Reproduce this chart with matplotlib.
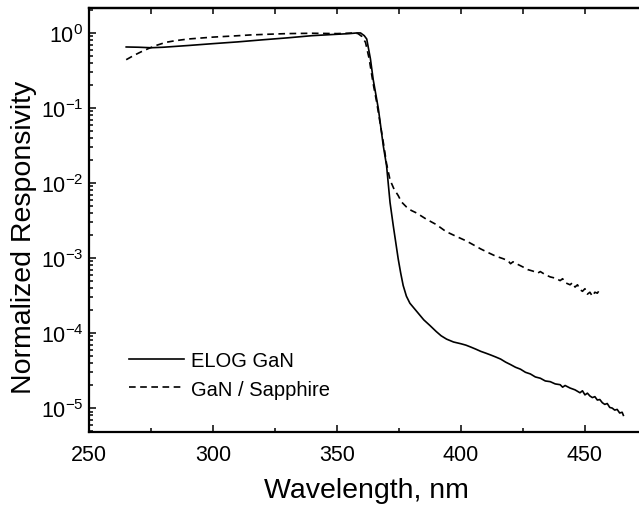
import numpy as np
import matplotlib
matplotlib.use('Agg')
import matplotlib.pyplot as plt
from matplotlib.ticker import LogLocator, NullFormatter, MultipleLocator

plt.rcParams['font.family'] = ['Liberation Sans', 'DejaVu Sans']
plt.rcParams['mathtext.fontset'] = 'custom'
plt.rcParams['mathtext.rm'] = 'Liberation Sans'
plt.rcParams['mathtext.it'] = 'Liberation Sans:italic'
plt.rcParams['axes.unicode_minus'] = False

# ELOG GaN (solid)
elog_wl = [265, 270, 275, 280, 290, 300, 310, 320, 330, 340, 350, 355, 358, 359.5,
           361, 362, 363.5, 364.6, 365.7, 366.7, 367.7, 368.7, 370, 371.4, 372.7,
           374.7, 375.7, 376.7, 378, 379.4, 380.8, 383, 385, 387.5, 390, 392, 394.2,
           397, 400, 402, 404, 406, 408, 410, 412, 414, 416, 418, 420, 422, 424, 426,
           428, 430, 432, 434, 436, 438, 440, 441, 442, 444, 446, 448, 449, 450, 451,
           452, 453, 454, 455, 456, 457, 458, 459, 460, 461, 462, 463, 464, 465, 465.5]
elog_resp = [0.65, 0.645, 0.635, 0.645, 0.68, 0.72, 0.76, 0.81, 0.86, 0.92, 0.96, 0.98, 1.0, 1.0,
             0.92, 0.83, 0.45, 0.24, 0.15, 0.097, 0.055, 0.031, 0.017, 5.5e-3, 2.7e-3,
             9.7e-4, 6.3e-4, 4.3e-4, 3.1e-4, 2.5e-4, 2.2e-4, 1.8e-4, 1.5e-4, 1.26e-4, 1.05e-4, 9.2e-5, 8.3e-5,
             7.6e-5, 7.2e-5, 6.9e-5, 6.5e-5, 6.1e-5, 5.7e-5, 5.4e-5, 5.1e-5, 4.8e-5, 4.5e-5, 4.1e-5, 3.8e-5, 3.5e-5, 3.3e-5, 3.0e-5,
             2.85e-5, 2.6e-5, 2.5e-5, 2.3e-5, 2.25e-5, 2.1e-5, 2.05e-5, 1.9e-5, 2.0e-5, 1.85e-5, 1.75e-5, 1.6e-5, 1.7e-5, 1.5e-5, 1.58e-5,
             1.45e-5, 1.38e-5, 1.42e-5, 1.28e-5, 1.3e-5, 1.18e-5, 1.12e-5, 1.15e-5, 1.02e-5, 1.0e-5, 9.4e-6, 9.6e-6, 8.6e-6, 8.8e-6, 8.0e-6]

# GaN / Sapphire (dashed)
sapph_wl = [265, 268, 271, 274, 277, 281, 285, 290, 300, 308, 315, 322, 330, 340, 350, 354, 357,
            358.5, 360, 361.5, 363, 364.5, 366, 367.5, 369, 370, 371.4, 373, 374.7, 376, 378, 380,
            382, 386, 390, 394, 398, 402, 405, 408, 411, 414, 417, 419, 420, 421, 423, 425, 427, 429,
            431, 432, 434, 436, 438, 440, 441, 442, 444, 445, 446, 447, 448, 449, 450, 451, 452, 453,
            454, 455, 456]
sapph_resp = [0.44, 0.50, 0.56, 0.62, 0.68, 0.75, 0.79, 0.83, 0.88, 0.91, 0.94, 0.96, 0.98, 0.99, 0.98, 0.99, 1.0,
              0.98, 0.9, 0.75, 0.45, 0.22, 0.12, 0.06, 0.03, 0.018, 0.011, 8.3e-3, 6.8e-3, 5.6e-3, 4.8e-3, 4.3e-3,
              4.0e-3, 3.3e-3, 2.8e-3, 2.25e-3, 1.95e-3, 1.7e-3, 1.5e-3, 1.32e-3, 1.18e-3, 1.06e-3, 9.8e-4, 9.2e-4, 8.4e-4, 8.9e-4, 8.2e-4, 7.6e-4, 7.0e-4, 6.7e-4,
              6.3e-4, 6.6e-4, 6.0e-4, 5.6e-4, 5.4e-4, 5.0e-4, 5.3e-4, 4.7e-4, 4.4e-4, 4.7e-4, 4.1e-4, 4.4e-4, 3.8e-4, 3.6e-4, 3.9e-4, 3.3e-4, 3.5e-4, 3.1e-4,
              3.5e-4, 3.4e-4, 3.8e-4]

fig = plt.figure(figsize=(6.39, 5.06), dpi=100)
ax = fig.add_axes([89/639, 73/506, 550/639, 424/506])

ax.plot(elog_wl, elog_resp, color='black', lw=1.2, label='ELOG GaN')
ax.plot(sapph_wl, sapph_resp, color='black', lw=1.2, dashes=(4.0, 2.7), label='GaN / Sapphire')

ax.set_yscale('log')
ax.set_xlim(250, 471.8)
ax.set_ylim(4.8e-6, 2.15)

ax.xaxis.set_major_locator(MultipleLocator(50))
ax.xaxis.set_minor_locator(MultipleLocator(25))
ax.yaxis.set_major_locator(LogLocator(base=10, numticks=20))
ax.yaxis.set_minor_locator(LogLocator(base=10, subs=np.arange(2, 10), numticks=20))
ax.yaxis.set_minor_formatter(NullFormatter())

for s in ['left', 'bottom', 'top']:
    ax.spines[s].set_linewidth(1.6)
ax.spines['right'].set_visible(False)

ax.tick_params(which='both', direction='in', top=False, right=False, width=1.1, labelsize=15.5)
ax.tick_params(which='major', length=5)
ax.tick_params(which='minor', length=3)
ax.tick_params(axis='x', pad=9)
ax.tick_params(axis='y', pad=4)

top = ax.secondary_xaxis('top')
top.xaxis.set_major_locator(MultipleLocator(25))
top.tick_params(direction='in', length=4.5, width=1.1, labeltop=False)
top.spines['top'].set_linewidth(1.6)

ax.set_xlabel('Wavelength, nm', fontsize=20.5)
ax.set_ylabel('Normalized Responsivity', fontsize=20.5)
ax.xaxis.set_label_coords(0.505, -0.105)
ax.yaxis.set_label_coords(-0.118, 0.461)
ax.yaxis.label.set_va('center')

ax.legend(loc='upper left', bbox_to_anchor=(0.073, 0.19), frameon=False, fontsize=14.5,
          borderpad=0, borderaxespad=0, handlelength=2.7, handletextpad=0.35, labelspacing=0.45)

fig.savefig('out.png', dpi=100)
